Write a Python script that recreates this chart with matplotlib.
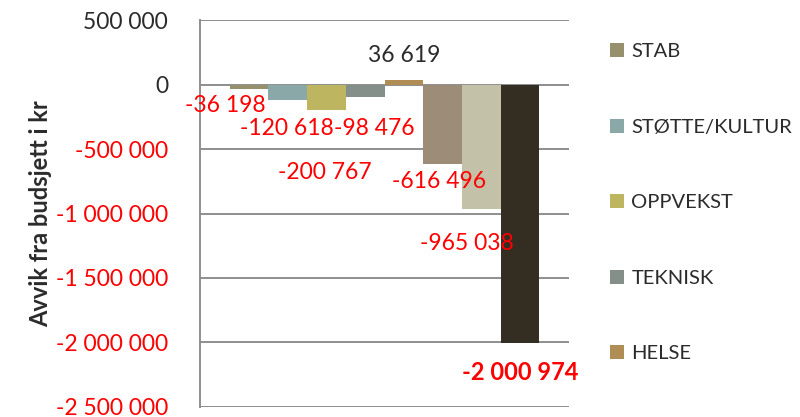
import matplotlib.pyplot as plt
from matplotlib.patches import Patch

plt.rcParams["font.family"] = ["Lato", "DejaVu Sans"]

VALUES = [-36198, -120618, -200767, -98476, 36619, -616496, -965038, -2000974]
COLORS = ["#97906C", "#8AA8A8", "#BDB55F", "#858F8A", "#B08D54",
          "#9C8C78", "#C3C1A8", "#332D22"]
LEGEND_NAMES = ["STAB", "STØTTE/KULTUR", "OPPVEKST", "TEKNISK", "HELSE"]
Y_TICKS = [500000, 0, -500000, -1000000, -1500000, -2000000, -2500000]

# label offsets in pixels (dx, dy downwards) relative to bar end
LABEL_OFFSETS = [(-24, 16), (-1, 28), (-2, 62), (9, 31), (0, -24),
                 (-3, 17), (-14, 35), (0, 30)]


def fmt(v):
    s = f"{abs(v):,}".replace(",", " ")
    return ("-" if v < 0 else "") + s


fig = plt.figure(figsize=(8.0, 4.17), dpi=100)
ax = fig.add_axes([0.25, 0.024, 0.46125, 0.928])

x = list(range(len(VALUES)))
ax.bar(x, VALUES, width=1.0, color=COLORS, zorder=3)

ax.set_xlim(-1.27, 8.27)
ax.set_ylim(-2500000, 500000)
ax.set_yticks(Y_TICKS)
ax.set_yticklabels([fmt(t) for t in Y_TICKS])
for lab, t in zip(ax.get_yticklabels(), Y_TICKS):
    lab.set_color("#FF0000" if t < 0 else "#2B2B2B")
ax.tick_params(axis="y", length=0, pad=23, labelsize=16.5)
ax.set_xticks([])

ax.grid(True, axis="y", color="#8E8E8E", linewidth=1.4, zorder=0)
for spine in ("top", "right", "bottom"):
    ax.spines[spine].set_visible(False)
ax.spines["left"].set_color("#8E8E8E")
ax.spines["left"].set_linewidth(1.4)

ax.set_ylabel("Avvik fra budsjett i kr", fontsize=17, fontweight="bold",
              color="#2B2B2B", labelpad=3)

for i, (v, (dx, dy)) in enumerate(zip(VALUES, LABEL_OFFSETS)):
    last = i == len(VALUES) - 1
    ax.annotate(fmt(v), xy=(i, v), xytext=(dx * 0.72, -dy * 0.72),
                textcoords="offset points", ha="center", va="center",
                fontsize=17 if last else 16.5,
                color="#FF0000" if v < 0 else "#2B2B2B",
                fontweight="bold" if last else "normal", zorder=4)

handles = [Patch(facecolor=c) for c in COLORS[:len(LEGEND_NAMES)]]
fig.legend(handles, LEGEND_NAMES, loc="upper left", bbox_to_anchor=(0.74, 0.94),
           frameon=False, fontsize=14.5, labelspacing=2.9, handlelength=0.7,
           handleheight=0.7, handletextpad=0.35, labelcolor="#2B2B2B")

fig.savefig("out.png", dpi=100, facecolor="white")
